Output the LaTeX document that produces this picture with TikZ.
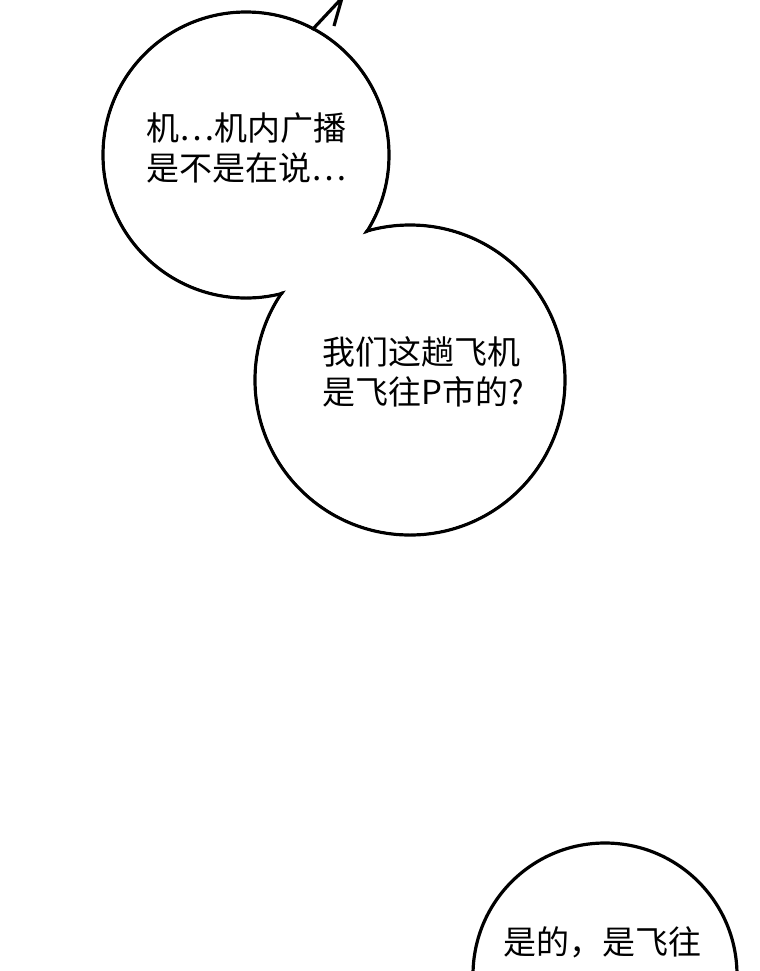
\documentclass[tikz,border=0pt]{standalone}
\usepackage{fontspec}
\newfontfamily\cjk{Noto Sans CJK SC}
\tikzset{
  bubble/.style={draw=black,line width=1.6pt},
  bubblefill/.style={fill=white},
  saytext/.style={font=\cjk\fontsize{16.5pt}{20pt}\selectfont,align=left,inner sep=0pt}
}
\begin{document}
\begin{tikzpicture}[x=0.5pt,y=-0.5pt]
\useasboundingbox[fill=white] (0,0) rectangle (760,971);
% tail
\draw[bubble,fill=white] (312,30) -- (342,-2) -- (334,26);
% outlines
\draw[bubble] (246,155) circle[radius=143];
\draw[bubble] (410,380) circle[radius=155];
\draw[bubble] (605,975) circle[radius=132];
% fill over inner strokes
\fill[bubblefill] (246,155) circle[radius=141];
\fill[bubblefill] (410,380) circle[radius=153];
\node[saytext,anchor=north west] (say1) at (146,112) {机⋯机内广播\\是不是在说⋯};
\node[saytext,anchor=north west] (say2) at (322,336) {我们这趟飞机\\是飞往P市的?};
\node[saytext,anchor=north west] (say3) at (503,926) {是的，是飞往};
\end{tikzpicture}
\end{document}
